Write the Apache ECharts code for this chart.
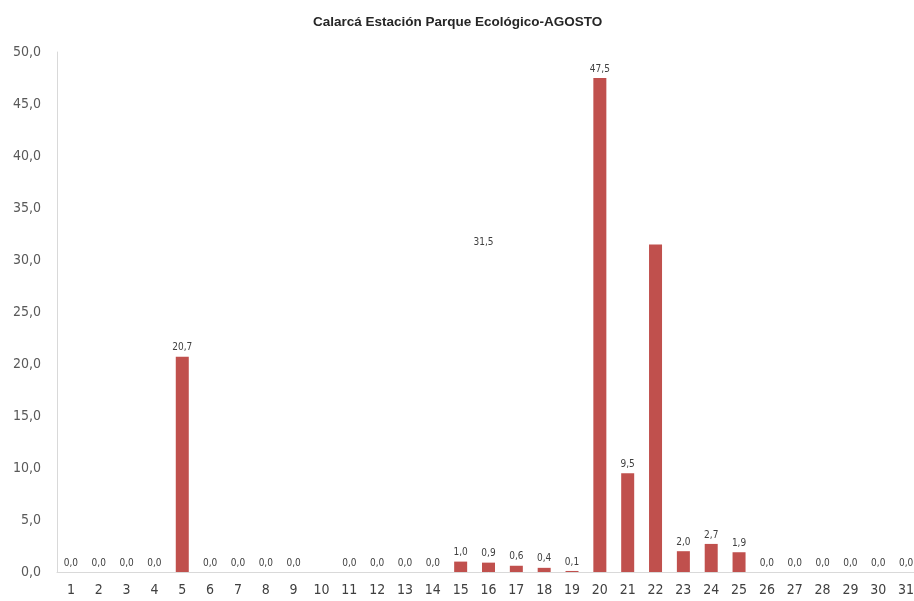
<!DOCTYPE html>
<html>
<head>
<meta charset="utf-8">
<script src="https://cdn.jsdelivr.net/npm/echarts@6/dist/echarts.min.js"></script>
<style>
  html, body { margin: 0; padding: 0; background: #fff; overflow: hidden; }
  #chart { width: 930px; height: 601px; }
</style>
</head>
<body>
<div id="chart"></div>
<script>
const titleText = 'Calarcá Estación Parque Ecológico-AGOSTO';
const days = ['1', '2', '3', '4', '5', '6', '7', '8', '9', '10', '11', '12', '13', '14', '15', '16',
  '17', '18', '19', '20', '21', '22', '23', '24', '25', '26', '27', '28', '29', '30', '31'];
const rain = [0, 0, 0, 0, 20.7, 0, 0, 0, 0, null, 0, 0, 0, 0, 1.0, 0.9,
  0.6, 0.4, 0.1, 47.5, 9.5, 31.5, 2.0, 2.7, 1.9, 0, 0, 0, 0, 0, 0];

const fmt = (v) => v.toFixed(1).replace('.', ',');
const font = "'DejaVu Sans Condensed', 'Liberation Sans', sans-serif";

// el contenedor es más ancho que la ventana: el eje se corta a la derecha como en el original
const chart = echarts.init(document.getElementById('chart'));

// el rótulo del día 22 quedó desplazado en el original
const seriesData = rain.map((v, i) => {
  if (days[i] === '22') {
    return { value: v, label: { offset: [-172, 7] } };
  }
  return v;
});

const option = {
  animation: false,
  title: {
    text: titleText,
    left: 308,
    top: 10,
    textStyle: { fontFamily: "'Liberation Sans', sans-serif", fontSize: 13.5, fontWeight: 'bold', color: '#262626' },
  },
  grid: {
    left: 57,
    top: 52,
    width: 863,
    height: 520,
    containLabel: false,
  },
  xAxis: {
    type: 'category',
    data: days,
    axisTick: { show: false },
    axisLine: { lineStyle: { color: '#d9d9d9', width: 1 } },
    axisLabel: { color: '#404040', fontSize: 14, fontFamily: font, margin: 11, interval: 0 },
  },
  yAxis: {
    type: 'value',
    min: 0,
    max: 50,
    interval: 5,
    splitLine: { show: false },
    axisTick: { show: false },
    axisLine: { show: true, lineStyle: { color: '#d9d9d9', width: 1 } },
    axisLabel: {
      color: '#595959',
      fontSize: 14,
      fontFamily: font,
      margin: 16,
      formatter: (v) => fmt(v),
    },
  },
  series: [
    {
      type: 'bar',
      data: seriesData,
      barWidth: 13,
      itemStyle: { color: '#C0504D' },
      label: {
        show: true,
        position: 'top',
        distance: 4,
        color: '#404040',
        fontSize: 10,
        fontFamily: font,
        formatter: (p) => (p.value == null ? '' : fmt(p.value)),
      },
    },
  ],
};

chart.setOption(option);
</script>
</body>
</html>
